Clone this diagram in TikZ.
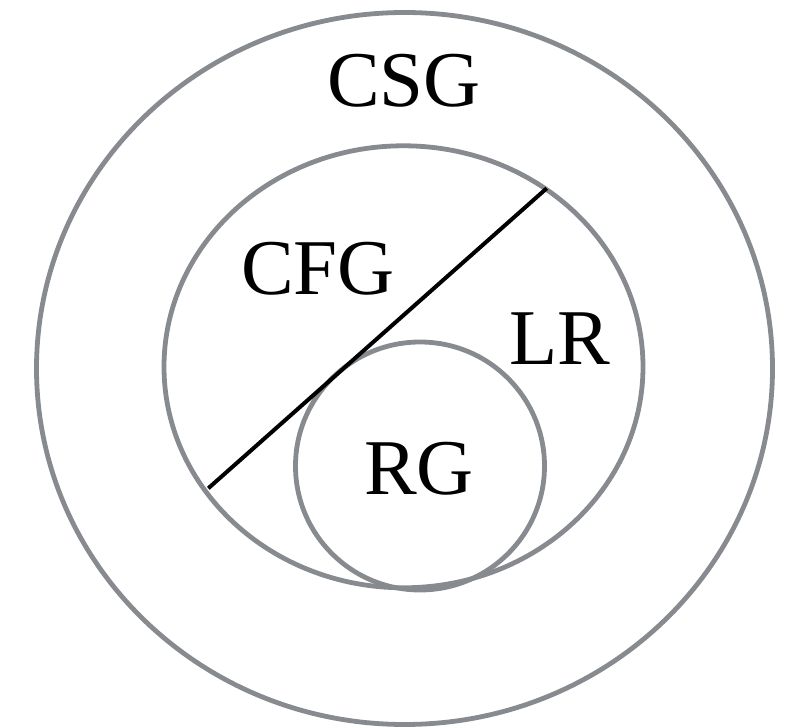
\documentclass[tikz,border=0pt]{standalone}
\usepackage{fontspec}
\setmainfont{Liberation Serif}
\usepackage{tikz}
\definecolor{setgrey}{HTML}{878A8E}

\begin{document}
\begin{tikzpicture}[x=1pt, y=-1pt,
  setline/.style={setgrey, line width=4.8pt},
  setlabel/.style={anchor=base, inner sep=0pt, font=\fontsize{79}{79}\selectfont}]
\useasboundingbox (0,0) rectangle (788,727);
\draw[setline] (404.5,368.5) ellipse [x radius=368, y radius=356];
\draw[setline] (403.5,366.8) ellipse [x radius=239.5, y radius=221];
\draw[setline] (420,466) ellipse [x radius=124.5, y radius=124];
\coordinate (cutlow) at (208.3,488.3);
\coordinate (cuthigh) at (546.7,188.3);
\draw[black, line width=4pt] (cutlow) -- (cuthigh);
\node[setlabel] (csg) at (404,107) {CSG};
\node[setlabel] (cfg) at (318,295) {CFG};
\node[setlabel] (lr) at (560,365) {LR};
\node[setlabel] (rg) at (419,495) {RG};
\end{tikzpicture}
\end{document}
